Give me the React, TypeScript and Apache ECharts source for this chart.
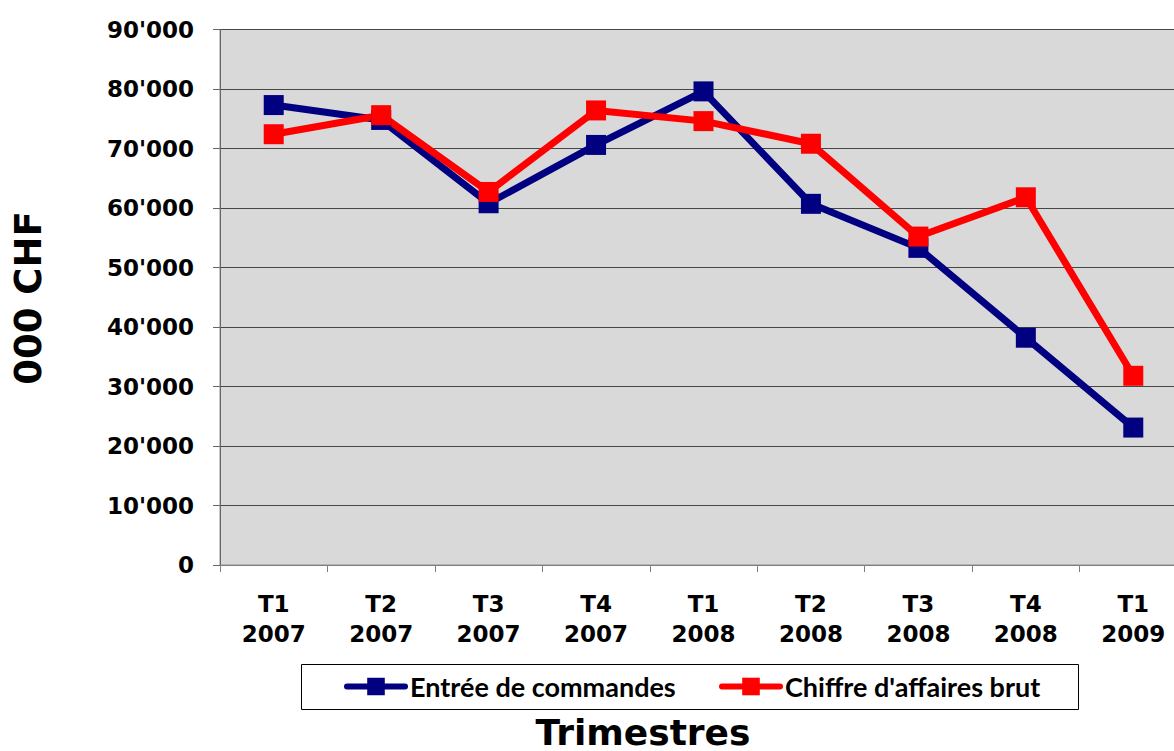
import { useEffect, useRef } from 'react';
import * as echarts from 'echarts';

const categories = ['T1\n2007', 'T2\n2007', 'T3\n2007', 'T4\n2007', 'T1\n2008', 'T2\n2008', 'T3\n2008', 'T4\n2008', 'T1\n2009'];
const entreeCommandes = [77300, 74800, 60800, 70600, 79600, 60700, 53300, 38200, 23100];
const chiffreAffaires = [72400, 75600, 62700, 76400, 74600, 70800, 55200, 61800, 31800];
const seriesNames = ['Entrée de commandes', "Chiffre d'affaires brut"];
const yMin = 0;
const yMax = 90000;
const yInterval = 10000;
const yAxisTitle = '000 CHF';
const xAxisTitle = 'Trimestres';

const fmt = (v: number) => {
  if (v === 0) return '0';
  const th = Math.floor(v / 1000);
  const rest = String(v % 1000).padStart(3, '0');
  return `${th}'${rest}`;
};

export default function App() {
  const ref = useRef<HTMLDivElement>(null);
  useEffect(() => {
    if (!ref.current) return;
    const chart = echarts.init(ref.current, undefined, { renderer: 'svg' });
    const tickFont = { fontFamily: 'DejaVu Sans', fontWeight: 'bold' as const, fontSize: 23, color: '#000' };
    const legendText = { fontFamily: 'Lato', fontWeight: 'bold' as const, fontSize: 27, color: '#000' };
    chart.setOption({
      animation: false,
      grid: {
        left: 220,
        top: 29.5,
        width: 967,
        height: 535.5,
        outerBoundsMode: 'none',
        containLabel: false,
        show: true,
        backgroundColor: '#d9d9d9',
        borderColor: '#8c8c8c',
        borderWidth: 1,
      },
      xAxis: {
        type: 'category',
        data: categories,
        boundaryGap: true,
        axisLine: { show: true, lineStyle: { color: '#7f7f7f', width: 1 } },
        axisTick: { show: true, length: 7, lineStyle: { color: '#7f7f7f' } },
        axisLabel: { ...tickFont, margin: 24, lineHeight: 30, interval: 0 },
        splitLine: { show: false },
      },
      yAxis: {
        type: 'value',
        min: yMin,
        max: yMax,
        interval: yInterval,
        axisLine: { show: true, lineStyle: { color: '#666', width: 1 } },
        axisTick: { show: true, length: 7, lineStyle: { color: '#666' } },
        axisLabel: { ...tickFont, margin: 26, formatter: (v: number) => fmt(v) },
        splitLine: { show: true, lineStyle: { color: '#474747', width: 1 } },
      },
      legend: [
        {
          data: [seriesNames[0]],
          left: 344,
          top: 673,
          padding: 0,
          itemWidth: 58,
          itemHeight: 22,
          textStyle: legendText,
          lineStyle: { width: 6, cap: 'round' },
          selectedMode: false,
        },
        {
          data: [seriesNames[1]],
          left: 719,
          top: 673,
          padding: 0,
          itemWidth: 58,
          itemHeight: 22,
          textStyle: legendText,
          lineStyle: { width: 6, cap: 'round' },
          selectedMode: false,
        },
      ],
      graphic: [
        {
          type: 'rect',
          shape: { x: 301.5, y: 664.5, width: 777, height: 45 },
          style: { fill: 'none', stroke: '#000', lineWidth: 1 },
          z: -1,
        },
        {
          type: 'text',
          x: 28,
          y: 298,
          rotation: Math.PI / 2,
          style: {
            text: yAxisTitle,
            fontFamily: 'DejaVu Sans',
            fontWeight: 'bold',
            fontSize: 37,
            fill: '#000',
            align: 'center',
            verticalAlign: 'middle',
          },
        },
        {
          type: 'text',
          x: 643,
          y: 732,
          style: {
            text: xAxisTitle,
            fontFamily: 'DejaVu Sans',
            fontWeight: 'bold',
            fontSize: 36,
            fill: '#000',
            align: 'center',
            verticalAlign: 'middle',
          },
        },
      ],
      series: [
        {
          name: seriesNames[0],
          type: 'line',
          data: entreeCommandes,
          symbol: 'rect',
          symbolSize: 20,
          lineStyle: { color: '#000080', width: 7 },
          itemStyle: { color: '#000080' },
          emphasis: { disabled: true },
        },
        {
          name: seriesNames[1],
          type: 'line',
          data: chiffreAffaires,
          symbol: 'rect',
          symbolSize: 20,
          lineStyle: { color: '#ff0000', width: 7 },
          itemStyle: { color: '#ff0000' },
          emphasis: { disabled: true },
        },
      ],
    });
    return () => chart.dispose();
  }, []);
  return <div ref={ref} style={{ position: 'absolute', left: 0, top: 0, width: 1174, height: 751, background: '#fff' }} />;
}
